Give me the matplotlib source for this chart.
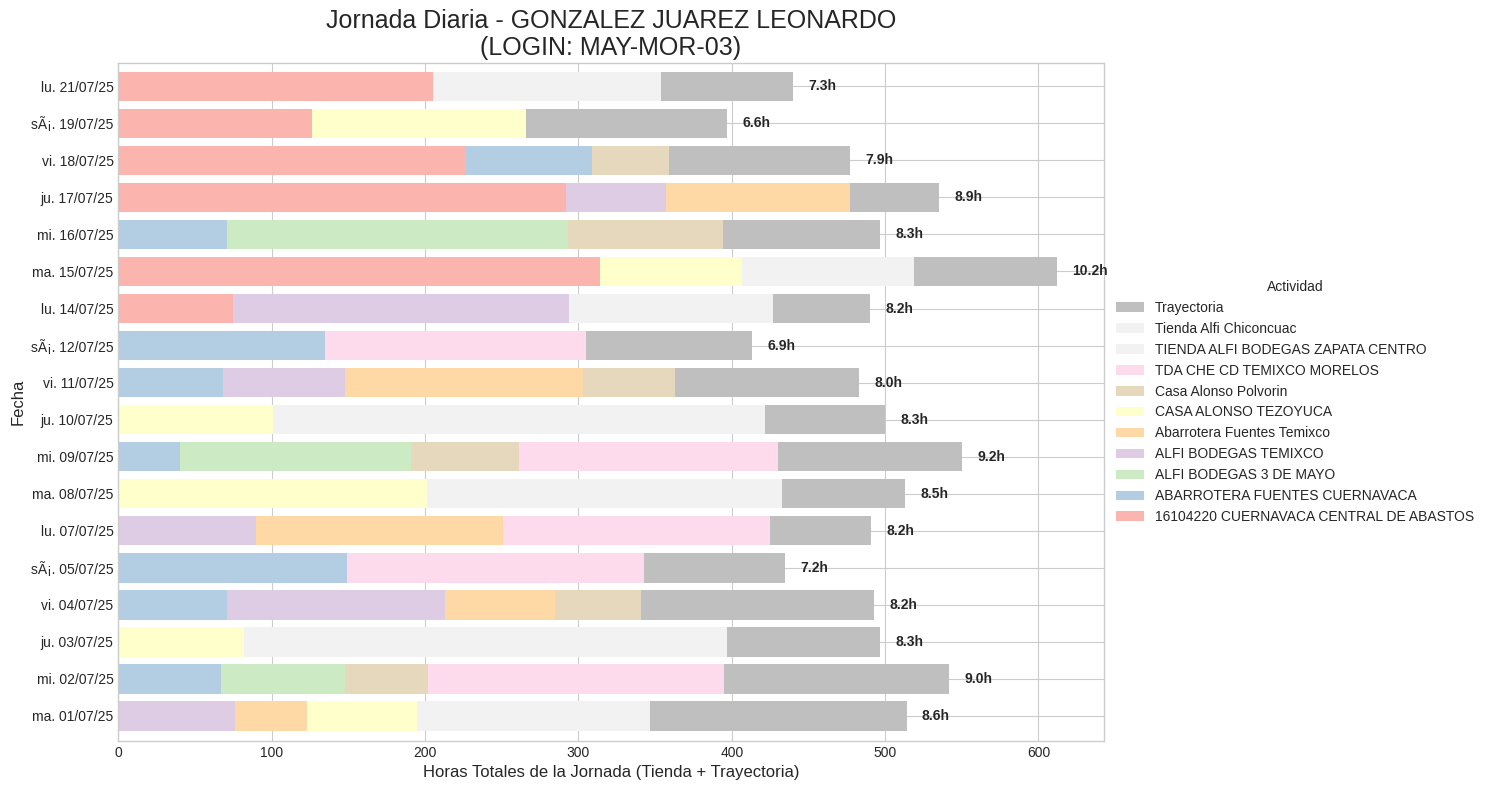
import numpy as np
from matplotlib import pyplot as plt

plt.style.use('seaborn-v0_8-whitegrid')
plt.rcParams['font.family'] = ['Liberation Sans', 'DejaVu Sans']

# fechas de abajo hacia arriba
fechas = ['ma. 01/07/25', 'mi. 02/07/25', 'ju. 03/07/25', 'vi. 04/07/25', 's\u00c3\u00a1. 05/07/25',
          'lu. 07/07/25', 'ma. 08/07/25', 'mi. 09/07/25', 'ju. 10/07/25', 'vi. 11/07/25',
          's\u00c3\u00a1. 12/07/25', 'lu. 14/07/25', 'ma. 15/07/25', 'mi. 16/07/25', 'ju. 17/07/25',
          'vi. 18/07/25', 's\u00c3\u00a1. 19/07/25', 'lu. 21/07/25']

central_abastos = [0, 0, 0, 0, 0, 0, 0, 0, 0, 0, 0, 75, 314, 0, 292, 227, 126, 205]
fuentes_cuernavaca = [0, 67, 0, 71, 149, 0, 0, 40, 0, 68, 135, 0, 0, 71, 0, 82, 0, 0]
bodegas_3_mayo = [0, 81, 0, 0, 0, 0, 0, 151, 0, 0, 0, 0, 0, 222, 0, 0, 0, 0]
bodegas_temixco = [76, 0, 0, 142, 0, 90, 0, 0, 0, 80, 0, 219, 0, 0, 65, 0, 0, 0]
fuentes_temixco = [47, 0, 0, 72, 0, 161, 0, 0, 0, 155, 0, 0, 0, 0, 120, 0, 0, 0]
casa_tezoyuca = [72, 0, 82, 0, 0, 0, 201, 0, 101, 0, 0, 0, 93, 0, 0, 0, 140, 0]
casa_polvorin = [0, 54, 0, 56, 0, 0, 0, 70, 0, 60, 0, 0, 0, 101, 0, 50, 0, 0]
che_temixco = [0, 193, 0, 0, 194, 174, 0, 169, 0, 0, 170, 0, 0, 0, 0, 0, 0, 0]
zapata_centro = [0, 0, 0, 0, 0, 0, 0, 0, 0, 0, 0, 133, 0, 0, 0, 0, 0, 149]
chiconcuac = [152, 0, 315, 0, 0, 0, 232, 0, 321, 0, 0, 0, 112, 0, 0, 0, 0, 0]
trayectoria = [167, 147, 100, 152, 92, 66, 80, 120, 78, 120, 108, 63, 93, 103, 58, 118, 131, 86]

etiquetas = ['8.6h', '9.0h', '8.3h', '8.2h', '7.2h', '8.2h', '8.5h', '9.2h', '8.3h', '8.0h',
             '6.9h', '8.2h', '10.2h', '8.3h', '8.9h', '7.9h', '6.6h', '7.3h']

series = [('16104220 CUERNAVACA CENTRAL DE ABASTOS', central_abastos, '#fbb4ae'),
          ('ABARROTERA FUENTES CUERNAVACA', fuentes_cuernavaca, '#b3cde3'),
          ('ALFI BODEGAS 3 DE MAYO', bodegas_3_mayo, '#ccebc5'),
          ('ALFI BODEGAS TEMIXCO', bodegas_temixco, '#decbe4'),
          ('Abarrotera Fuentes Temixco', fuentes_temixco, '#fed9a6'),
          ('CASA ALONSO TEZOYUCA', casa_tezoyuca, '#ffffcc'),
          ('Casa Alonso Polvorin', casa_polvorin, '#e5d8bd'),
          ('TDA CHE CD TEMIXCO MORELOS', che_temixco, '#fddaec'),
          ('TIENDA ALFI BODEGAS ZAPATA CENTRO', zapata_centro, '#f2f2f2'),
          ('Tienda Alfi Chiconcuac', chiconcuac, '#f2f2f2'),
          ('Trayectoria', trayectoria, '#bfbfbf')]

fig = plt.figure(figsize=(14.89, 7.9), dpi=100)
ax = fig.add_subplot(111)
fig.subplots_adjust(left=118.4 / 1489, right=1103.6 / 1489, top=1 - 63 / 790, bottom=1 - 741 / 790)

y = np.arange(len(fechas))
acumulado = np.zeros(len(fechas))
for nombre, valores, color in series:
    ax.barh(y, valores, left=acumulado, height=0.8, color=color, label=nombre)
    acumulado = acumulado + np.array(valores)

for i, total in enumerate(acumulado):
    ax.text(total + 10, i, etiquetas[i], va='center', fontsize=10, fontweight='bold', color='.15')

ax.set_yticks(y)
ax.set_yticklabels(fechas, fontsize=10)
ax.tick_params(axis='x', labelsize=10)
ax.set_xlim(0, 642.5)
ax.set_ylim(-0.68, 17.63)
ax.set_axisbelow(True)

ax.set_title('Jornada Diaria - GONZALEZ JUAREZ LEONARDO\n(LOGIN: MAY-MOR-03)', fontsize=18, color='.15',
             linespacing=1.15)
ax.set_xlabel('Horas Totales de la Jornada (Tienda + Trayectoria)', fontsize=12)
ax.set_ylabel('Fecha', fontsize=12)

handles, labels = ax.get_legend_handles_labels()
ax.legend(handles[::-1], labels[::-1], title='Actividad', loc='center left',
          bbox_to_anchor=(1.0, 0.5), fontsize=10, title_fontsize=10)

plt.savefig('out.png', dpi=100)
